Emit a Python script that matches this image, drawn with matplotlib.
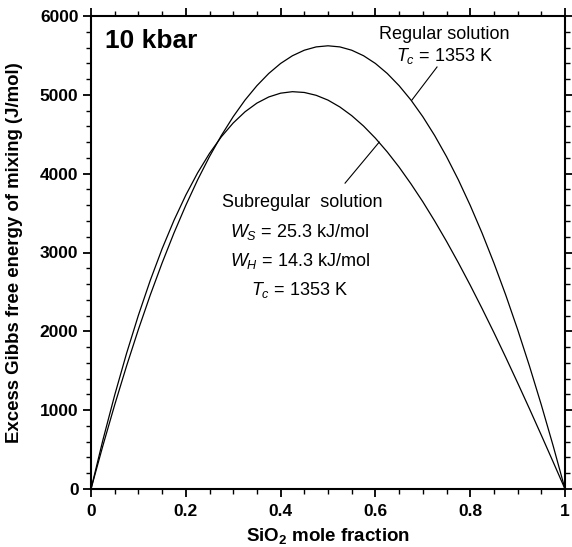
import numpy as np
import matplotlib.pyplot as plt
from matplotlib.ticker import MultipleLocator

plt.rcParams['font.family'] = ['Liberation Sans', 'DejaVu Sans']
plt.rcParams['mathtext.fontset'] = 'custom'
plt.rcParams['mathtext.rm'] = 'Liberation Sans'
plt.rcParams['mathtext.it'] = 'Liberation Sans:italic'
plt.rcParams['mathtext.bf'] = 'Liberation Sans:bold'

# SiO2 mole fraction
x_sio2 = [0.0, 0.025, 0.05, 0.075, 0.1, 0.125, 0.15, 0.175, 0.2, 0.225,
          0.25, 0.275, 0.3, 0.325, 0.35, 0.375, 0.4, 0.425, 0.45, 0.475,
          0.5, 0.525, 0.55, 0.575, 0.6, 0.625, 0.65, 0.675, 0.7, 0.725,
          0.75, 0.775, 0.8, 0.825, 0.85, 0.875, 0.9, 0.925, 0.95, 0.975, 1.0]

# excess Gibbs free energy of mixing (J/mol)
g_regular = [0, 548, 1068, 1560, 2024, 2460, 2867, 3247, 3598, 3922,
             4217, 4484, 4723, 4934, 5116, 5271, 5398, 5496, 5566, 5608,
             5622, 5608, 5566, 5496, 5398, 5271, 5116, 4934, 4723, 4484,
             4217, 3922, 3598, 3247, 2867, 2460, 2024, 1560, 1068, 548, 0]
g_subregular = [0, 619, 1192, 1720, 2204, 2646, 3047, 3407, 3728, 4011,
                4257, 4468, 4643, 4785, 4895, 4973, 5021, 5040, 5030, 4994,
                4933, 4846, 4736, 4604, 4450, 4276, 4083, 3871, 3644, 3400,
                3142, 2870, 2586, 2290, 1985, 1670, 1347, 1018, 683, 343, 0]

fig = plt.figure(figsize=(5.72, 5.47), dpi=100)
ax = fig.add_axes([91/572, 1 - 489/547, 474/572, 473/547])

ax.plot(x_sio2, g_regular, color='black', lw=0.9)
ax.plot(x_sio2, g_subregular, color='black', lw=0.9)

ax.set_xlim(0, 1)
ax.set_ylim(0, 6000)
ax.xaxis.set_major_locator(MultipleLocator(0.2))
ax.xaxis.set_minor_locator(MultipleLocator(0.05))
ax.yaxis.set_major_locator(MultipleLocator(1000))
ax.yaxis.set_minor_locator(MultipleLocator(200))
ax.set_xticks([0, 0.2, 0.4, 0.6, 0.8, 1.0])
ax.set_xticklabels(['0', '0.2', '0.4', '0.6', '0.8', '1'])

for s in ax.spines.values():
    s.set_linewidth(1.5)
ax.tick_params(which='both', direction='out', top=True, right=True,
               labeltop=False, labelright=False)
ax.tick_params(which='major', length=6, width=1.3, labelsize=12.5)
ax.tick_params(which='minor', length=3.5, width=1.0)
ax.tick_params(axis='x', which='major', pad=5)
ax.tick_params(axis='y', which='major', pad=3)
for lab in ax.get_xticklabels() + ax.get_yticklabels():
    lab.set_fontweight('bold')

ax.set_xlabel('SiO$_\\mathbf{2}$ mole fraction', fontsize=13.5,
              fontweight='bold', labelpad=5)
ax.set_ylabel('Excess Gibbs free energy of mixing (J/mol)', fontsize=13.4,
              fontweight='bold', labelpad=12)

ax.text(0.03, 5680, '10 kbar', fontsize=19, fontweight='bold', va='center')

ax.text(0.745, 5770, 'Regular solution', fontsize=13, ha='center', va='center')
ax.text(0.747, 5490, '$T_c$ = 1353 K', fontsize=13, ha='center', va='center')
ax.plot([0.73, 0.677], [5353, 4934], color='black', lw=0.8)

ax.text(0.445, 3640, 'Subregular  solution', fontsize=13, ha='center', va='center')
ax.text(0.44, 3260, '$W_S$ = 25.3 kJ/mol', fontsize=13, ha='center', va='center')
ax.text(0.44, 2890, '$W_H$ = 14.3 kJ/mol', fontsize=13, ha='center', va='center')
ax.text(0.44, 2520, '$T_c$ = 1353 K', fontsize=13, ha='center', va='center')
ax.plot([0.536, 0.608], [3880, 4400], color='black', lw=0.8)

fig.savefig('out.png', dpi=100)
